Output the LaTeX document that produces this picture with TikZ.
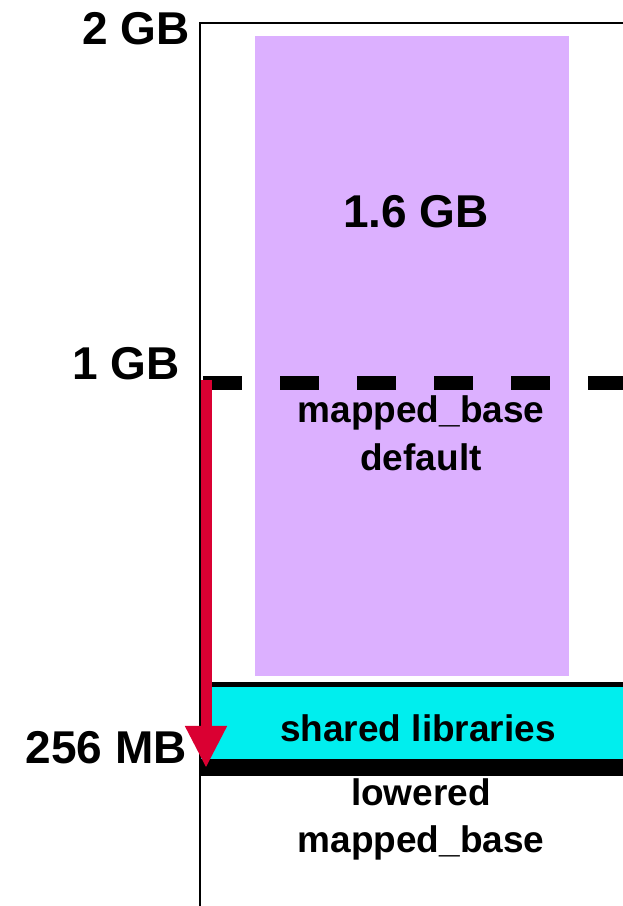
\documentclass[tikz,border=0pt]{standalone}
\usepackage{fontspec}
\setmainfont{Liberation Sans}
\usetikzlibrary{arrows.meta, positioning}
\definecolor{mapcolor}{RGB}{220,176,255}
\definecolor{libcolor}{RGB}{0,238,238}
\definecolor{movecolor}{RGB}{218,0,50}

\begin{document}
\begin{tikzpicture}[x=1pt, y=1pt,
  addr/.style={font=\fontsize{46}{50}\selectfont\bfseries, inner sep=0pt, anchor=base east},
  big/.style={font=\fontsize{46}{50}\selectfont\bfseries, inner sep=0pt, anchor=base},
  small/.style={font=\fontsize{37}{48}\selectfont\bfseries, inner sep=0pt, anchor=base, align=center}]
\useasboundingbox (0,0) rectangle (623,906);

% regions
\fill[mapcolor] (255,230) rectangle (569,870);
\fill[libcolor] (200,147) rectangle (623,219);
\fill[black] (200,219) rectangle (623,224);
\fill[black] (200,130) rectangle (623,147);

% address space border
\draw[line width=2.5pt] (623,883) -- (200,883) -- (200,0);

% default mapped_base
\coordinate (dashL) at (203,523);
\coordinate (dashR) at (623,523);
\draw[line width=14pt, dash pattern=on 39pt off 38pt] (dashL) -- (dashR);

% addresses
\node (top)[addr] at (190,861) {2 GB};
\node (mid)[addr] at (180,526) {1 GB};
\node (low)[addr] at (187,142) {256 MB};

% labels (base = last line)
\node (size)[big] at (416,678) {1.6 GB};
\node (mbdefault)[small] at (421,435) {mapped\_base\\default};
\node (shlib)[small] at (418,164) {shared libraries};
\node (mblowered)[small] at (421,53) {lowered\\mapped\_base};

% move of mapped_base
\coordinate (mbfrom) at (206,526);
\coordinate (mbto) at (206,138);
\draw[-{Triangle[width=39pt, length=42pt]}, line width=11pt, movecolor] (mbfrom) -- (mbto);
\end{tikzpicture}
\end{document}
